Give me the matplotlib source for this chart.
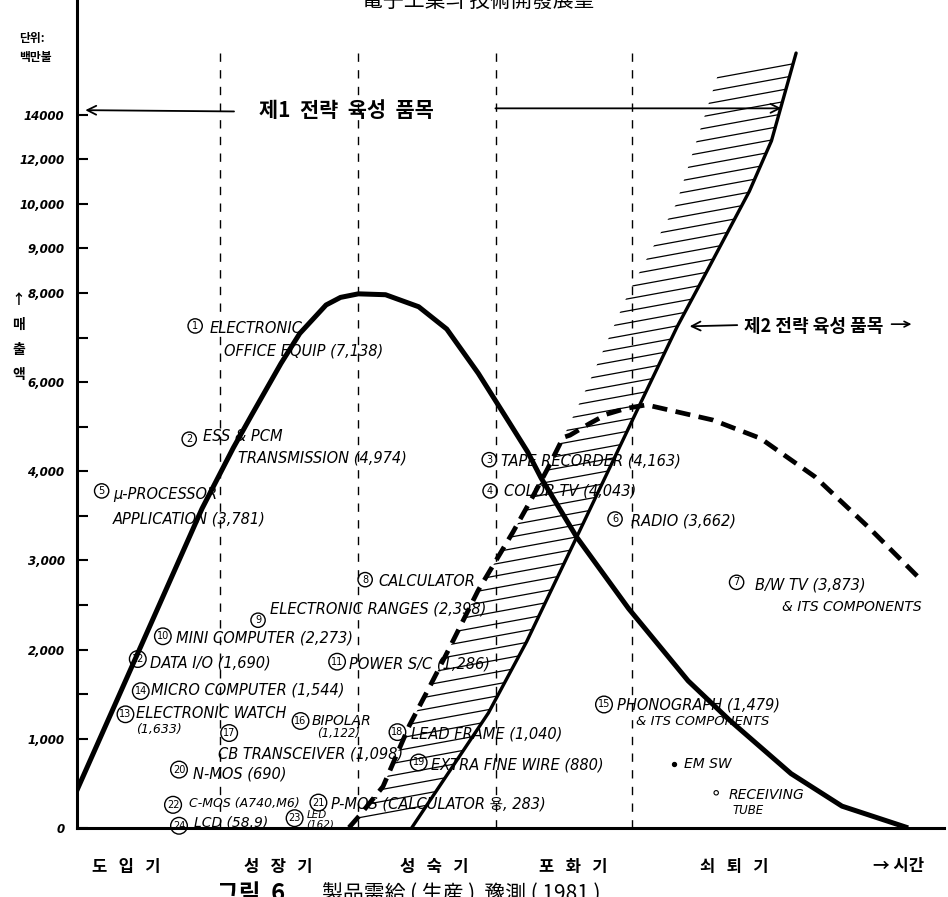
import matplotlib
matplotlib.use('Agg')
import matplotlib.pyplot as plt
from matplotlib.patches import Polygon

KR = ['Noto Sans CJK KR', 'DejaVu Sans']
HAND = ['DejaVu Sans', 'Noto Sans CJK KR']

# y = step on the hand drawn sales scale (one step per tick mark)
tick_pos = [0, 2, 3, 4, 5, 6, 7, 8, 9, 10, 11, 12, 13, 14, 15, 16]
tick_labels = ['0', '1,000', '', '2,000', '', '3,000', '', '4,000', '',
               '6,000', '', '8,000', '9,000', '10,000', '12,000', '14000']

stages = ['도   입   기', '성   장   기', '성   숙   기', '포   화   기', '쇠   퇴   기']
stage_x = [5.8, 23.7, 42.0, 58.4, 77.3]
stage_bounds = [16.8, 33.0, 49.3, 65.3]

# 제1 전략 육성 품목 : life cycle curve
life_t = [0.0, 14.7, 18.4, 20.6, 24.0, 26.2, 29.3, 31.0, 33.1, 36.3, 40.2, 43.5,
          47.2, 50.9, 53.0, 54.6, 58.8, 64.9, 71.9, 76.7, 84.0, 90.0, 97.5]
life_v = [0.85, 7.16, 8.53, 9.28, 10.42, 11.09, 11.73, 11.90, 11.98, 11.96, 11.69, 11.19,
          10.20, 9.08, 8.44, 7.85, 6.52, 4.92, 3.30, 2.43, 1.22, 0.49, 0.02]

# dashed curve (B/W TV)
bw_t = [32.0, 33.2, 36.0, 39.1, 41.6, 43.8, 47.2, 51.3, 53.5, 55.4, 57.2,
        58.0, 60.3, 62.3, 64.6, 67.0, 74.8, 80.4, 86.8, 93.2, 98.9]
bw_v = [0.01, 0.27, 0.93, 2.30, 3.21, 4.03, 5.33, 6.64, 7.39, 8.07, 8.76,
        8.81, 9.07, 9.28, 9.41, 9.49, 9.15, 8.74, 7.88, 6.73, 5.64]

# 제2 전략 육성 품목 : hatched band
band_right_t = [39.4, 48.4, 52.9, 58.4, 66.2, 70.6, 74.2, 79.1, 81.7, 84.6]
band_right_v = [0.01, 2.58, 4.18, 6.37, 9.49, 11.24, 12.52, 14.28, 15.41, 17.38]
band_left_t = [57.2, 60.2, 64.9, 70.5, 75.5]
band_left_v = [8.76, 9.97, 12.01, 14.0, 16.95]

# (number, circle x, circle y, label, label x, label y, font size)
products = [
    ('1', 13.9, 11.26, 'ELECTRONIC', 15.6, 11.2, 10.5),
    ('2', 13.2, 8.72, 'ESS & PCM', 14.8, 8.77, 10.5),
    ('3', 48.5, 8.26, 'TAPE RECORDER (4,163)', 49.9, 8.24, 10.5),
    ('4', 48.6, 7.56, 'COLOR TV (4,043)', 50.2, 7.55, 10.5),
    ('5', 2.9, 7.56, 'μ-PROCESSOR', 4.3, 7.48, 10.5),
    ('6', 63.3, 6.93, 'RADIO (3,662)', 65.2, 6.88, 10.5),
    ('7', 77.6, 5.51, 'B/W TV (3,873)', 79.8, 5.46, 10.5),
    ('8', 33.9, 5.57, 'CALCULATOR', 35.4, 5.53, 10.5),
    ('9', 21.3, 4.66, 'ELECTRONIC RANGES (2,398)', 22.7, 4.92, 10.5),
    ('10', 10.1, 4.30, 'MINI COMPUTER (2,273)', 11.7, 4.27, 10.5),
    ('11', 30.6, 3.73, 'POWER S/C (1,286)', 32.0, 3.67, 10.5),
    ('12', 7.15, 3.79, 'DATA I/O (1,690)', 8.6, 3.69, 10.5),
    ('13', 5.7, 2.55, 'ELECTRONIC WATCH', 7.0, 2.56, 10.5),
    ('14', 7.5, 3.07, 'MICRO COMPUTER (1,544)', 8.7, 3.10, 10.5),
    ('15', 62.0, 2.77, 'PHONOGRAPH (1,479)', 63.5, 2.76, 10.5),
    ('16', 26.3, 2.40, 'BIPOLAR', 27.6, 2.41, 10),
    ('17', 17.9, 2.13, 'CB TRANSCEIVER (1,098)', 16.6, 1.65, 10.5),
    ('18', 37.7, 2.15, 'LEAD FRAME (1,040)', 39.3, 2.10, 10.5),
    ('19', 40.2, 1.47, 'EXTRA FINE WIRE (880)', 41.6, 1.42, 10.5),
    ('20', 12.0, 1.31, 'N-MOS (690)', 13.6, 1.20, 10.5),
    ('21', 28.4, 0.57, 'P-MOS (CALCULATOR 용, 283)', 29.9, 0.54, 10.5),
    ('22', 11.3, 0.52, 'C-MOS (A740,M6)', 13.2, 0.55, 9),
    ('23', 25.6, 0.22, 'LED', 27.0, 0.30, 7.5),
    ('24', 12.0, 0.05, 'LCD (58.9)', 13.8, 0.13, 10),
]

# second lines of labels and loose notes
extra_lines = [
    ('OFFICE EQUIP (7,138)', 17.3, 10.7, 10.5),
    ('TRANSMISSION (4,974)', 19.0, 8.30, 10.5),
    ('APPLICATION (3,781)', 4.16, 6.92, 10.5),
    ('& ITS COMPONENTS', 83.0, 4.96, 10),
    ('(1,633)', 6.9, 2.2, 9),
    ('& ITS COMPONENTS', 65.8, 2.39, 9.5),
    ('(1,122)', 28.3, 2.12, 8.5),
    ('(162)', 27.0, 0.08, 7.5),
    ('EM SW', 71.4, 1.43, 10),
    ('RECEIVING', 76.7, 0.73, 10),
    ('TUBE', 77.1, 0.39, 8.5),
]
dots_t = [70.2, 75.2]
dots_v = [1.43, 0.79]

fig = plt.figure(figsize=(9.48, 8.97), dpi=100)
ax = fig.add_axes([77 / 948, 69 / 897, 867 / 948, 828 / 897])
ax.set_xlim(0, 102)
ax.set_ylim(0, 18.57)

for s in ['top', 'right']:
    ax.spines[s].set_visible(False)
for s in ['left', 'bottom']:
    ax.spines[s].set_linewidth(2.2)
ax.set_xticks([])
ax.set_yticks(tick_pos)
ax.set_yticklabels(tick_labels, fontsize=8.5, fontweight='bold', style='italic')
ax.tick_params(axis='y', direction='in', length=8, width=1.5, pad=9)

# hatched band of 2nd strategic products
n_low = bw_t.index(57.2) + 1
verts = list(zip(bw_t[:n_low], bw_v[:n_low])) + list(zip(band_left_t[1:], band_left_v[1:]))
verts += list(zip(band_right_t[::-1], band_right_v[::-1]))
band = Polygon(verts, closed=True, fc='none', ec='none')
ax.add_patch(band)
for k in range(70):
    v0 = 0.12 + k * 0.27
    ln, = ax.plot([28, 92], [v0 - 0.035 * 2, v0 + 0.035 * 62], color='k', lw=0.9)
    ln.set_clip_path(band)
ax.plot(band_right_t, band_right_v, color='k', lw=2.4, solid_capstyle='round')

# stage boundaries
for b in stage_bounds:
    ax.plot([b, b], [0, 17.5], color='k', lw=1.0, ls=(0, (6, 6)))

ax.plot(bw_t, bw_v, color='k', lw=3.4, ls=(0, (3.2, 1.8)))
ax.plot(life_t, life_v, color='k', lw=3.6, solid_joinstyle='round')

# labels
for num, ct, cv, lab, lt, lv, fs in products:
    ax.text(ct, cv, num, ha='center', va='center', fontsize=7,
            bbox=dict(boxstyle='circle,pad=0.22', fc='none', ec='k', lw=1.0))
    ax.text(lt, lv, lab, ha='left', va='center', fontsize=fs, style='italic', family=HAND)
for lab, lt, lv, fs in extra_lines:
    ax.text(lt, lv, lab, ha='left', va='center', fontsize=fs, style='italic', family=HAND)
ax.scatter(dots_t[:1], dots_v[:1], s=8, color='k')
ax.scatter(dots_t[1:], dots_v[1:], s=10, facecolor='none', edgecolor='k', lw=0.8)

# strategic product arrows
arrow = dict(arrowstyle='->', lw=1.3, color='k', mutation_scale=16)
ax.annotate('', xy=(0.65, 16.1), xytext=(18.8, 16.07), arrowprops=arrow)
ax.annotate('', xy=(83.2, 16.14), xytext=(48.9, 16.14), arrowprops=arrow)
ax.text(31.7, 16.1, '제1  전략  육성  품목', ha='center', va='center', fontsize=15,
        fontweight='bold', family=KR)
ax.annotate('', xy=(71.75, 11.25), xytext=(78.0, 11.28), arrowprops=arrow)
ax.annotate('', xy=(98.5, 11.3), xytext=(95.5, 11.3),
            arrowprops=dict(arrowstyle='->', lw=1.2, color='k', mutation_scale=10), annotation_clip=False)
ax.text(86.7, 11.25, '제2 전략 육성 품목', ha='center', va='center', fontsize=13,
        fontweight='bold', family=KR)

# axis texts
ax.text(-6.8, 17.5, '단위:\n백만불', ha='left', va='center', fontsize=8.5,
        fontweight='bold', family=KR, linespacing=1.6, clip_on=False)
ax.text(-6.9, 11.0, '↑\n매\n출\n액', ha='center', va='center', fontsize=10,
        fontweight='bold', family=KR, linespacing=2.0, clip_on=False)
for lab, x in zip(stages, stage_x):
    ax.text(x, -0.88, lab, ha='center', va='center', fontsize=12,
            fontweight='bold', family=KR, clip_on=False)
ax.text(96.7, -0.85, '→ 시간', ha='center', va='center', fontsize=12,
        fontweight='bold', family=KR, clip_on=False)

# title / caption cut by the scan
fig.text(0.505, 0.999, '電子工業의 技術開發展望', ha='center', va='center', fontsize=15, family=KR)
fig.text(0.265, 0.003, '그림  6', ha='center', va='center', fontsize=17, fontweight='bold', family=KR)
fig.text(0.34, 0.003, '製品需給 ( 生産 )  豫測 ( 1981 )', ha='left', va='center', fontsize=15, family=KR)

fig.savefig('out.png', dpi=100)
